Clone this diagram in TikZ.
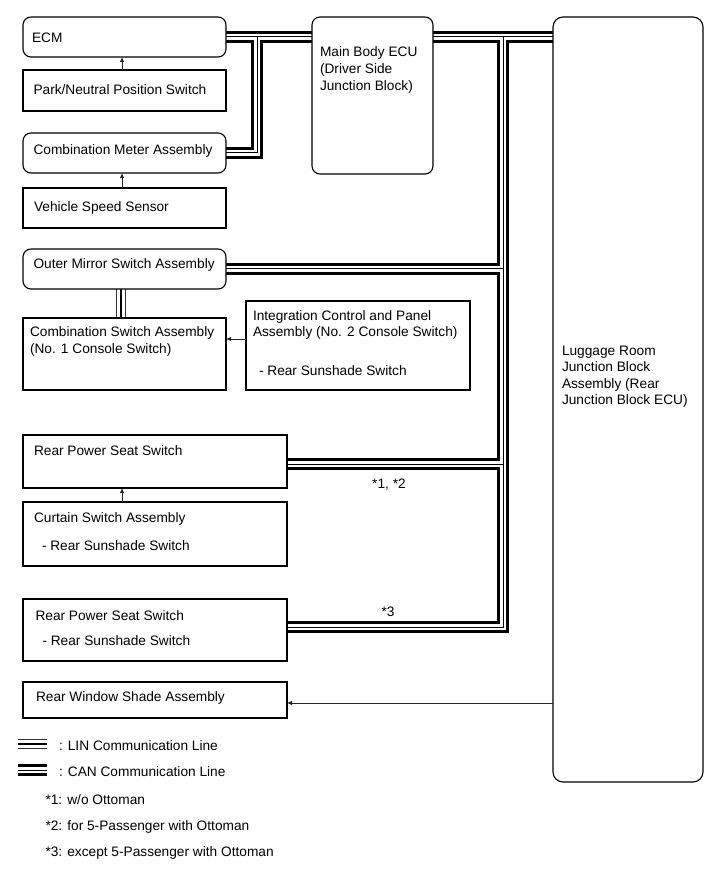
\documentclass[tikz,border=0pt]{standalone}
\usepackage{fontspec}
\setmainfont{Liberation Sans}
\usetikzlibrary{arrows.meta,calc}
\pgfdeclarelayer{background}
\pgfdeclarelayer{canvas}
\pgfsetlayers{canvas,background,main}
\newcommand\dfont{\fontsize{13.7}{16}\selectfont}
\begin{document}
\begin{tikzpicture}[x=1pt,y=-1pt,
  box/.style={draw=black,line width=1.1pt,fill=white,inner sep=0pt,outer sep=0pt},
  rbox/.style={box,rounded corners=8pt},
  txt/.style={inner sep=0pt,outer sep=0pt,anchor=base west,font=\dfont},
  ctxt/.style={inner sep=0pt,outer sep=0pt,anchor=base,font=\dfont},
  arr/.style={draw=black!85,line width=0.8pt,-{Latex[length=5pt,width=4.5pt]}},
  canA/.style={draw=black,line width=11.5pt,line cap=butt,line join=miter},
  canB/.style={draw=white,line width=6.5pt,line cap=butt,line join=miter},
  canC/.style={draw=black,line width=1pt,line cap=butt,line join=miter},
  linA/.style={draw=black!80,line width=10.5pt,line cap=butt,line join=miter},
  linB/.style={draw=white,line width=8.5pt,line cap=butt,line join=miter},
  linC/.style={draw=black,line width=2.6pt,line cap=butt,line join=miter}]
\useasboundingbox (0,0) rectangle (713,882);
\begin{pgfonlayer}{canvas}
\fill[white] (0,0) rectangle (713,882);
\end{pgfonlayer}

% boxes
\node[rbox,minimum width=203pt,minimum height=40pt] (ecm) at (124.5,37) {};
\node[box,minimum width=203pt,minimum height=41pt] (pnps) at (124.5,90.5) {};
\node[rbox,minimum width=203pt,minimum height=40pt] (cma) at (124.5,153) {};
\node[box,minimum width=203pt,minimum height=40pt] (vss) at (124.5,208) {};
\node[rbox,minimum width=121pt,minimum height=157pt] (mb) at (372.5,95.5) {};
\node[box,rounded corners=10pt,minimum width=150pt,minimum height=765pt] (lug) at (628,399.5) {};
\node[rbox,minimum width=203pt,minimum height=40pt] (omsa) at (124.5,269) {};
\node[box,minimum width=203pt,minimum height=72pt] (csa) at (124.5,354) {};
\node[box,minimum width=224pt,minimum height=89pt] (icp) at (358,345.5) {};
\node[box,minimum width=264pt,minimum height=53pt] (rpss1) at (155,461.5) {};
\node[box,minimum width=264pt,minimum height=64pt] (cur) at (155,534) {};
\node[box,minimum width=264pt,minimum height=62pt] (rpss2) at (155,630) {};
\node[box,minimum width=264pt,minimum height=36pt] (rwsa) at (155,700) {};

% texts
\node[txt] (t1) at (32,42.5) {ECM};
\node[txt] (t2) at (33.5,94.5) {Park/Neutral Position Switch};
\node[txt] (t3) at (33.5,154.5) {Combination Meter Assembly};
\node[txt] (t4) at (34,211.5) {Vehicle Speed Sensor};
\node[txt] (t5) at (320,56.5) {Main Body ECU};
\node[txt] (t6) at (320,73.5) {(Driver Side};
\node[txt] (t7) at (320,90.5) {Junction Block)};
\node[txt] (t8) at (33.5,269) {Outer Mirror Switch Assembly};
\node[txt] (t9) at (30,336.5) {Combination Switch Assembly};
\node[txt] (t10) at (30,353) {(No. 1 Console Switch)};
\node[txt] (t11) at (253,320) {Integration Control and Panel};
\node[txt] (t12) at (253,336.5) {Assembly (No. 2 Console Switch)};
\node[txt] (t13) at (259,375) {- Rear Sunshade Switch};
\node[txt] (t14) at (34,455) {Rear Power Seat Switch};
\node[txt] (t15) at (34,522.5) {Curtain Switch Assembly};
\node[txt] (t16) at (42,550) {- Rear Sunshade Switch};
\node[txt] (t17) at (35.5,620) {Rear Power Seat Switch};
\node[txt] (t18) at (42.5,645) {- Rear Sunshade Switch};
\node[txt] (t19) at (36,701.5) {Rear Window Shade Assembly};
\node[txt] (t20) at (562,355) {Luggage Room};
\node[txt] (t21) at (562,371.5) {Junction Block};
\node[txt] (t22) at (562,388) {Assembly (Rear};
\node[txt] (t23) at (562,404.5) {Junction Block ECU)};
\node[ctxt] (t24) at (389,488) {*1, *2};
\node[ctxt] (t25) at (388,616.5) {*3};
\node[txt] (t26) at (59,750) {: LIN Communication Line};
\node[txt] (t27) at (59,776) {: CAN Communication Line};
\node[txt] (t28) at (45.5,804) {*1: w/o Ottoman};
\node[txt] (t29) at (45.5,830) {*2: for 5-Passenger with Ottoman};
\node[txt] (t30) at (45.5,856) {*3: except 5-Passenger with Ottoman};

% coordinates
\coordinate (j1) at (257,37);
\coordinate (j2) at (503,37);
\coordinate (j3) at (503,627);
\coordinate (j4) at (503,464);
\coordinate (lin1) at (121,0);
\coordinate (ax) at (122,0);
\coordinate (ay) at (0,339);
\coordinate (az) at (0,703);
\coordinate (lcanA) at (18,770);
\coordinate (lcanB) at (47,770);
\coordinate (llinA) at (18,744);
\coordinate (llinB) at (47,744);

% buses
\begin{pgfonlayer}{background}
\foreach \s in {canA,canB,canC}{
  \draw[\s] (ecm.east) -- (ecm.east -| mb.west);
  \draw[\s] (j1) |- (cma.east);
  \draw[\s] (mb.east |- j2) -- (lug.west |- j2);
  \draw[\s] (j2) -- (j3) -- (j3 -| rpss2.east);
  \draw[\s] (omsa.east) -- (omsa.east -| j2);
  \draw[\s] (j4 -| rpss1.east) -- (j4);
  \draw[\s] (lcanA) -- (lcanB);
}
\foreach \s in {linA,linB,linC}{
  \draw[\s] (omsa.south -| lin1) -- (csa.north -| lin1);
  \draw[\s] (llinA) -- (llinB);
}
\end{pgfonlayer}

% arrows
\draw[arr] (pnps.north -| ax) -- (ecm.south -| ax);
\draw[arr] (vss.north -| ax) -- (cma.south -| ax);
\draw[arr] (cur.north -| ax) -- (rpss1.south -| ax);
\draw[arr] (icp.west |- ay) -- (csa.east |- ay);
\draw[arr] (lug.west |- az) -- (rwsa.east |- az);
\end{tikzpicture}
\end{document}
